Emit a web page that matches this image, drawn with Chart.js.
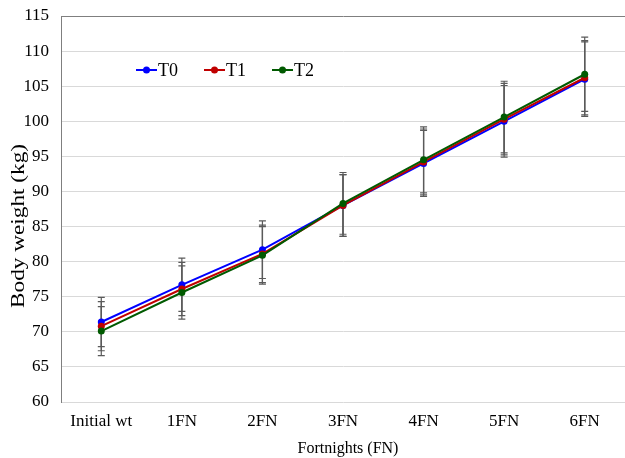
<!DOCTYPE html>
<html>
<head>
<meta charset="utf-8">
<script src="https://cdn.jsdelivr.net/npm/chart.js@4/dist/chart.umd.min.js"></script>
<style>
html,body{margin:0;padding:0;background:#fff;}
#wrap{width:625px;height:458px;position:relative;}
</style>
</head>
<body>
<div id="wrap"><canvas id="c" width="625" height="458"></canvas></div>
<script>
const categories = ["Initial wt", "1FN", "2FN", "3FN", "4FN", "5FN", "6FN"];
const seriesNames = ["T0", "T1", "T2"];
const t0Values = [71.4, 76.7, 81.7, 88.0, 94.0, 100.0, 106.0];
const t1Values = [70.8, 76.1, 81.1, 88.0, 94.2, 100.3, 106.2];
const t2Values = [70.1, 75.6, 80.9, 88.3, 94.5, 100.6, 106.7];
const t0Errors = [3.5, 3.8, 4.1, 4.4, 4.7, 5.1, 5.3];
const t1Errors = [3.5, 3.8, 4.1, 4.4, 4.7, 5.1, 5.3];
const t2Errors = [3.5, 3.8, 4.1, 4.4, 4.7, 5.1, 5.3];
const yTicks = [60, 65, 70, 75, 80, 85, 90, 95, 100, 105, 110, 115];
const yTitle = "Body weight (kg)";
const xTitle = "Fortnights (FN)";

const colors = ["#0000ff", "#c00000", "#005a00"];
const SERIF = "'Liberation Serif', 'Times New Roman', 'DejaVu Serif', serif";

const errorBarPlugin = {
  id: 'errorBars',
  beforeDatasetsDraw(chart) {
    const ctx = chart.ctx;
    const xs = chart.scales.x, ys = chart.scales.y;
    ctx.save();
    ctx.strokeStyle = '#5a5a5a';
    ctx.lineWidth = 1.2;
    chart.data.datasets.forEach((ds) => {
      ds.data.forEach((v, i) => {
        const e = ds.errors[i];
        const x = xs.getPixelForValue(i);
        const yt = ys.getPixelForValue(v + e);
        const yb = ys.getPixelForValue(v - e);
        ctx.beginPath();
        ctx.moveTo(x, yt); ctx.lineTo(x, yb);
        ctx.moveTo(x - 3.5, yt); ctx.lineTo(x + 3.5, yt);
        ctx.moveTo(x - 3.5, yb); ctx.lineTo(x + 3.5, yb);
        ctx.stroke();
      });
    });
    ctx.restore();
  }
};

const textPlugin = {
  id: 'innerLegendAndTitle',
  afterDraw(chart) {
    const ctx = chart.ctx;
    ctx.save();
    ctx.font = "18px " + SERIF;
    ctx.textBaseline = 'middle';
    ctx.textAlign = 'left';
    const y = 70;
    chart.data.datasets.forEach((ds, i) => {
      const x0 = 136 + i * 68;
      ctx.strokeStyle = ds.borderColor;
      ctx.lineWidth = 2;
      ctx.beginPath();
      ctx.moveTo(x0, y); ctx.lineTo(x0 + 21, y);
      ctx.stroke();
      ctx.fillStyle = ds.borderColor;
      ctx.beginPath();
      ctx.arc(x0 + 10.5, y, 3.5, 0, Math.PI * 2);
      ctx.fill();
      ctx.fillStyle = '#000';
      ctx.fillText(ds.label, x0 + 22, y + 1);
    });
    ctx.font = "18px " + SERIF;
    ctx.textAlign = 'center';
    ctx.translate(19, 226);
    ctx.rotate(-Math.PI / 2);
    const w = ctx.measureText(yTitle).width;
    ctx.scale(164 / w, 1);
    ctx.fillText(yTitle, 0, 0);
    ctx.restore();
    ctx.save();
    ctx.font = "16px " + SERIF;
    ctx.textAlign = 'center';
    ctx.textBaseline = 'middle';
    ctx.fillStyle = '#000';
    ctx.fillText(xTitle, 348, 449);
    ctx.restore();
  }
};

const valueSets = [t0Values, t1Values, t2Values];
const errorSets = [t0Errors, t1Errors, t2Errors];

new Chart(document.getElementById('c'), {
  type: 'line',
  data: {
    labels: categories,
    datasets: seriesNames.map((n, i) => ({
      label: n,
      data: valueSets[i],
      errors: errorSets[i],
      borderColor: colors[i],
      backgroundColor: colors[i],
      pointBackgroundColor: colors[i],
      pointBorderColor: colors[i],
      pointRadius: 3.5,
      pointBorderWidth: 0,
      borderWidth: 2,
      tension: 0,
      order: 2 - i
    }))
  },
  options: {
    responsive: false,
    animation: false,
    devicePixelRatio: 1,
    layout: { autoPadding: false, padding: { top: 16, right: 0, left: 0, bottom: 0 } },
    plugins: { legend: { display: false }, tooltip: { enabled: false } },
    scales: {
      x: {
        offset: true,
        grid: { display: false, drawTicks: false, tickLength: 0 },
        border: { display: false },
        ticks: { font: { family: SERIF, size: 17 }, color: '#000', padding: 9, maxRotation: 0 },
        title: { display: false },
        afterFit(s) { s.height = 56; s.paddingLeft = 0; s.paddingRight = 0; }
      },
      y: {
        min: 60, max: 115,
        afterBuildTicks(s) { s.ticks = yTicks.map(v => ({ value: v })); },
        grid: {
          drawTicks: false, tickLength: 0,
          color: (c) => (c.tick && c.tick.value === 115) ? '#7f7f7f' : '#d9d9d9',
          lineWidth: 1
        },
        border: { display: true, color: '#7f7f7f', width: 1 },
        ticks: { font: { family: SERIF, size: 17 }, color: '#000', padding: 12 },
        title: { display: false },
        afterFit(s) { s.width = 61; s.paddingTop = 0; s.paddingBottom = 0; }
      }
    }
  },
  plugins: [errorBarPlugin, textPlugin]
});
</script>
</body>
</html>
